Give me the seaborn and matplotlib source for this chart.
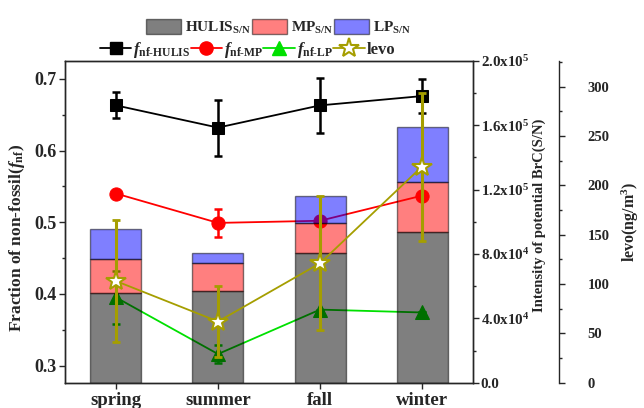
import numpy as np
import matplotlib
matplotlib.use("Agg")
import matplotlib.pyplot as plt
from matplotlib.patches import Patch
from matplotlib.lines import Line2D
from matplotlib.ticker import MultipleLocator, FixedLocator, FixedFormatter
import seaborn as sns

sns.set_style("ticks")
plt.rcParams.update({
    "font.family": ["Liberation Serif", "DejaVu Serif"],
    "font.weight": "bold",
    "mathtext.fontset": "custom",
    "mathtext.rm": "Liberation Serif:bold",
    "mathtext.it": "Liberation Serif:bold:italic",
    "mathtext.bf": "Liberation Serif:bold",
    "axes.linewidth": 1.0,
})

# ---- data ----
seasons = ["spring", "summer", "fall", "winter"]

# potential BrC intensity (S/N), stacked
hulis_sn = [56000, 57000, 80500, 93900]
mp_sn = [21100, 17200, 18600, 30700]
lp_sn = [18500, 6200, 17200, 34600]

# non-fossil fractions with errors
f_hulis = [0.663, 0.632, 0.663, 0.676]
f_hulis_err = [0.018, 0.039, 0.038, 0.024]
f_mp = [0.540, 0.499, 0.502, 0.537]
f_mp_err = [0.0, 0.019, 0.0, 0.0]
f_lp = [0.395, 0.316, 0.378, 0.374]
f_lp_err = [0.037, 0.012, 0.0, 0.0]

# levoglucosan (ng/m3)
levo = [103, 62, 121, 219]
levo_err = [62, 36, 68, 75]

olive = "#A59E00"
green = "#00E000"
pos = np.arange(len(seasons))

fig = plt.figure(figsize=(6.44, 4.08), dpi=100)
ax = fig.add_axes([0.1009, 0.062, 0.6336, 0.7886])
ax2 = ax.twinx()
ax3 = ax.twinx()
ax3.spines["right"].set_position(("axes", 1.211))

# ---- non-fossil fraction lines (left axis) ----
line_specs = [
    (f_hulis, f_hulis_err, "black", "s", 8),
    (f_mp, f_mp_err, "red", "o", 9.5),
    (f_lp, f_lp_err, green, "^", 9.5),
]
for vals, errs, col, mk, ms in line_specs:
    sns.lineplot(x=pos, y=vals, ax=ax, color=col, marker=mk, markersize=ms,
                 markeredgecolor=col, linewidth=1.3, legend=False)
    ax.errorbar(pos, vals, yerr=errs, fmt="none", ecolor=col, elinewidth=1.8,
                capsize=3, capthick=1.8)

ax.set_xlim(-0.5, 3.5)
ax.set_ylim(0.276, 0.725)
ax.yaxis.set_major_locator(MultipleLocator(0.1))
ax.yaxis.set_minor_locator(MultipleLocator(0.05))
ax.set_ylabel(r"Fraction of non-fossil($f_{\mathbf{nf}}$)", fontsize=12.5,
              fontweight="bold")
ax.yaxis.set_label_coords(-0.092, 0.45)

# ---- stacked BrC bars (right axis) ----
bar_kw = dict(width=0.5, saturation=1, alpha=0.5, edgecolor="black",
              linewidth=1.0, errorbar=None, ax=ax2)
sns.barplot(x=pos, y=hulis_sn, color="black", **bar_kw)
sns.barplot(x=pos, y=mp_sn, bottom=hulis_sn, color="red", **bar_kw)
sns.barplot(x=pos, y=lp_sn, bottom=np.add(hulis_sn, mp_sn), color="blue", **bar_kw)

ax2.set_ylim(0, 2.0e5)
ax2.yaxis.set_major_locator(FixedLocator([0, 4e4, 8e4, 1.2e5, 1.6e5, 2.0e5]))
ax2.yaxis.set_major_formatter(FixedFormatter([
    "0.0", r"4.0x10$^{\mathbf{4}}$", r"8.0x10$^{\mathbf{4}}$",
    r"1.2x10$^{\mathbf{5}}$", r"1.6x10$^{\mathbf{5}}$", r"2.0x10$^{\mathbf{5}}$"]))
ax2.yaxis.set_minor_locator(MultipleLocator(2e4))
ax2.set_ylabel("Intensity of potential BrC(S/N)", fontsize=10.5,
               fontweight="bold")
ax2.yaxis.set_label_coords(1.145, 0.52)

# ---- levoglucosan (third axis) ----
sns.lineplot(x=pos, y=levo, ax=ax3, color=olive, linewidth=1.3, legend=False)
ax3.errorbar(pos, levo, yerr=levo_err, fmt="none", ecolor=olive,
             elinewidth=2.2, capsize=3, capthick=2)
ax3.plot(pos, levo, linestyle="none", marker="*", markersize=15,
         markerfacecolor="white", markeredgecolor=olive, markeredgewidth=1.5)
ax3.set_ylim(0, 326)
ax3.yaxis.set_major_locator(MultipleLocator(50))
ax3.yaxis.set_minor_locator(MultipleLocator(25))
ax3.set_ylabel(r"levo(ng/m$^{\mathbf{3}}$)", fontsize=11.5, fontweight="bold")
ax3.yaxis.set_label_coords(1.36, 0.5)
for sp in ("left", "top", "bottom"):
    ax3.spines[sp].set_visible(False)

# ---- ticks ----
ax.set_xticks(pos)
ax.set_xticklabels(seasons)
ax.tick_params(axis="x", direction="out", length=4, width=1, labelsize=13.5, pad=3)
ax.tick_params(axis="y", which="major", direction="out", length=4, width=1,
               labelsize=13, pad=2)
ax.tick_params(axis="y", which="minor", direction="out", length=2.5, width=1)
ax2.tick_params(axis="y", which="major", direction="out", length=4, width=1,
                labelsize=10.8, pad=1.5)
ax2.tick_params(axis="y", which="minor", direction="out", length=2.5, width=1)
ax3.tick_params(axis="y", which="major", direction="out", length=4, width=1,
                labelsize=10.5, pad=16.5)
ax3.tick_params(axis="y", which="minor", direction="out", length=2.5, width=1)
for a in (ax, ax2, ax3):
    for lab in a.get_xticklabels() + a.get_yticklabels():
        lab.set_fontweight("bold")
ax.set_xlabel("")
ax2.set_xlabel("")

# ---- legends ----
bar_handles = [
    Patch(facecolor="black", edgecolor="black", alpha=0.5, linewidth=1),
    Patch(facecolor="red", edgecolor="black", alpha=0.5, linewidth=1),
    Patch(facecolor="blue", edgecolor="black", alpha=0.5, linewidth=1),
]
bar_labels = [r"HULIS$_{\mathbf{S/N}}$", r"MP$_{\mathbf{S/N}}$", r"LP$_{\mathbf{S/N}}$"]
fig.legend(bar_handles, bar_labels, loc="center left", bbox_to_anchor=(0.2267, 0.933),
           ncol=3, frameon=False, fontsize=11, handlelength=2.3,
           handleheight=1.1, handletextpad=0.25, columnspacing=0.05,
           borderaxespad=0, borderpad=0)

line_handles = [
    Line2D([], [], color="black", marker="s", markersize=8, linewidth=1.3),
    Line2D([], [], color="red", marker="o", markersize=9.5, linewidth=1.3),
    Line2D([], [], color=green, marker="^", markersize=9.5, linewidth=1.3),
    Line2D([], [], color=olive, marker="*", markersize=15, markerfacecolor="white",
           markeredgecolor=olive, markeredgewidth=1.5, linewidth=1.3),
]
line_labels = [r"$f_{\mathbf{nf\text{-}HULIS}}$", r"$f_{\mathbf{nf\text{-}MP}}$",
               r"$f_{\mathbf{nf\text{-}LP}}$", "levo"]
fig.legend(line_handles, line_labels, loc="center left", bbox_to_anchor=(0.155, 0.877),
           ncol=4, frameon=False, fontsize=12, handlelength=1.9,
           handletextpad=0.1, columnspacing=0.0, borderaxespad=0, borderpad=0)

fig.savefig("out.png", dpi=100)
